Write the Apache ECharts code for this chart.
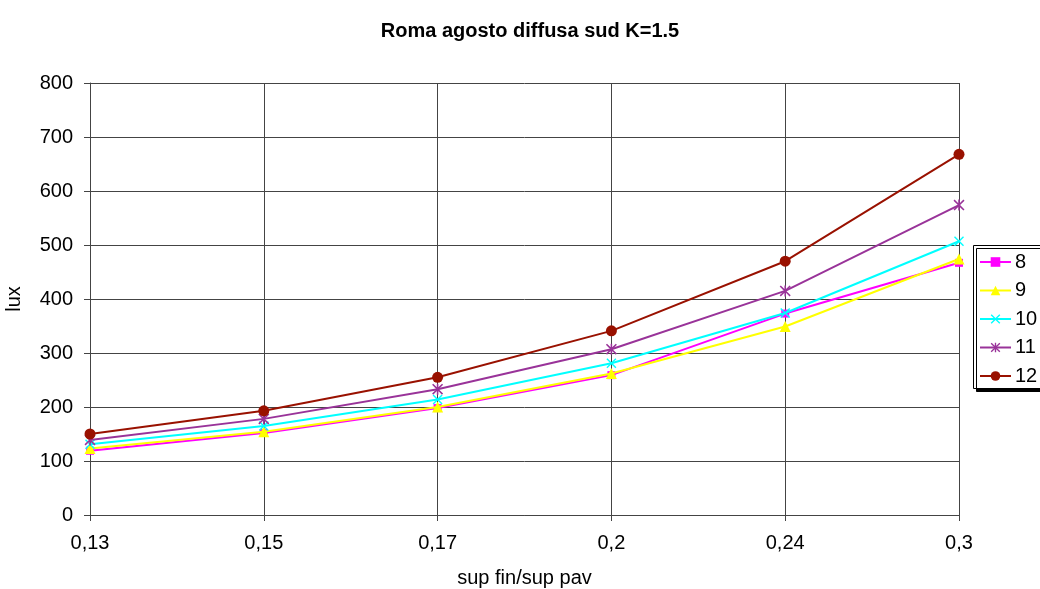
<!DOCTYPE html>
<html>
<head>
<meta charset="utf-8">
<script src="https://cdn.jsdelivr.net/npm/echarts@6/dist/echarts.min.js"></script>
<style>
html,body{margin:0;padding:0;background:#fff;}
#c{width:1040px;height:589px;}
</style>
</head>
<body>
<div id="c"></div>
<script>
const categories = ['0,13', '0,15', '0,17', '0,2', '0,24', '0,3'];
const seriesNames = ['8', '9', '10', '11', '12'];
const s8 = [119, 152, 198, 259, 373, 467];
const s9 = [123, 154, 200, 262, 349, 474];
const s10 = [131, 165, 214, 281, 374, 507];
const s11 = [139, 178, 233, 307, 415, 574];
const s12 = [150, 193, 255, 341, 470, 668];
const yTicks = [0, 100, 200, 300, 400, 500, 600, 700, 800];

const FONT = '"Liberation Sans", Arial, sans-serif';
const X_PATH = 'path://M0,1L1,0L5,4L9,0L10,1L6,5L10,9L9,10L5,6L1,10L0,9L4,5Z';
const STAR_PATH = 'path://M0,1L1,0L5,4L9,0L10,1L6,5L10,9L9,10L5,6L1,10L0,9L4,5Z M4.3,0L5.7,0L5.7,10L4.3,10Z';

const styles = [
  {color: '#FF00FF', symbol: 'rect', size: 8},
  {color: '#FFFF00', symbol: 'triangle', size: 11},
  {color: '#00FFFF', symbol: X_PATH, size: 10},
  {color: '#993399', symbol: STAR_PATH, size: 11},
  {color: '#991100', symbol: 'circle', size: 11}
];
const allData = [s8, s9, s10, s11, s12];

const chart = echarts.init(document.getElementById('c'), null, {renderer: 'canvas'});
chart.setOption({
  animation: false,
  backgroundColor: '#fff',
  textStyle: {fontFamily: FONT, color: '#000'},
  title: {
    text: 'Roma agosto diffusa sud K=1.5',
    left: 525,
    textAlign: 'center',
    top: 16,
    textStyle: {fontFamily: FONT, fontSize: 20, fontWeight: 'bold', color: '#000'}
  },
  graphic: [{
    type: 'rect',
    z: 1,
    shape: {x: 973.5, y: 245.5, width: 100, height: 143},
    style: {fill: '#fff', stroke: '#000', lineWidth: 1, shadowColor: '#000', shadowOffsetX: 3, shadowOffsetY: 3, shadowBlur: 0}
  }],
  legend: {
    orient: 'vertical',
    left: 979,
    top: 252,
    padding: 0,
    itemWidth: 31,
    itemHeight: 12,
    itemGap: 8.5,
    z: 10,
    textStyle: {fontFamily: FONT, fontSize: 20, lineHeight: 20, color: '#000', padding: [0,0,0,-1]},
    data: seriesNames
  },
  grid: {left: 90, right: 81, top: 83, bottom: 74, containLabel: false, outerBoundsMode: 'none'},
  xAxis: {
    type: 'category',
    data: categories,
    boundaryGap: false,
    name: 'sup fin/sup pav',
    nameLocation: 'middle',
    nameGap: 53,
    nameTextStyle: {fontFamily: FONT, fontSize: 20, color: '#000'},
    axisLine: {show: true, lineStyle: {color: '#444', width: 1}},
    axisTick: {show: true, length: 6, lineStyle: {color: '#444'}},
    axisLabel: {fontFamily: FONT, fontSize: 20, color: '#000', margin: 18},
    splitLine: {show: true, lineStyle: {color: '#444', width: 1}}
  },
  yAxis: {
    type: 'value',
    min: 0,
    max: 800,
    interval: 100,
    name: 'lux',
    nameLocation: 'middle',
    nameGap: 66,
    nameTextStyle: {fontFamily: FONT, fontSize: 20, color: '#000'},
    axisLine: {show: true, lineStyle: {color: '#444', width: 1}},
    axisTick: {show: true, length: 6, lineStyle: {color: '#444'}},
    axisLabel: {fontFamily: FONT, fontSize: 20, color: '#000', margin: 17,
      formatter: v => yTicks.includes(v) ? String(v) : ''},
    splitLine: {show: true, lineStyle: {color: '#444', width: 1}}
  },
  series: seriesNames.map((n, i) => ({
    name: n,
    type: 'line',
    data: allData[i],
    symbol: styles[i].symbol,
    symbolSize: styles[i].size,
    showAllSymbol: true,
    z: 3 + i,
    lineStyle: {color: styles[i].color, width: 2},
    itemStyle: {color: styles[i].color, borderWidth: 0},
    emphasis: {disabled: true}
  }))
});
</script>
</body>
</html>
